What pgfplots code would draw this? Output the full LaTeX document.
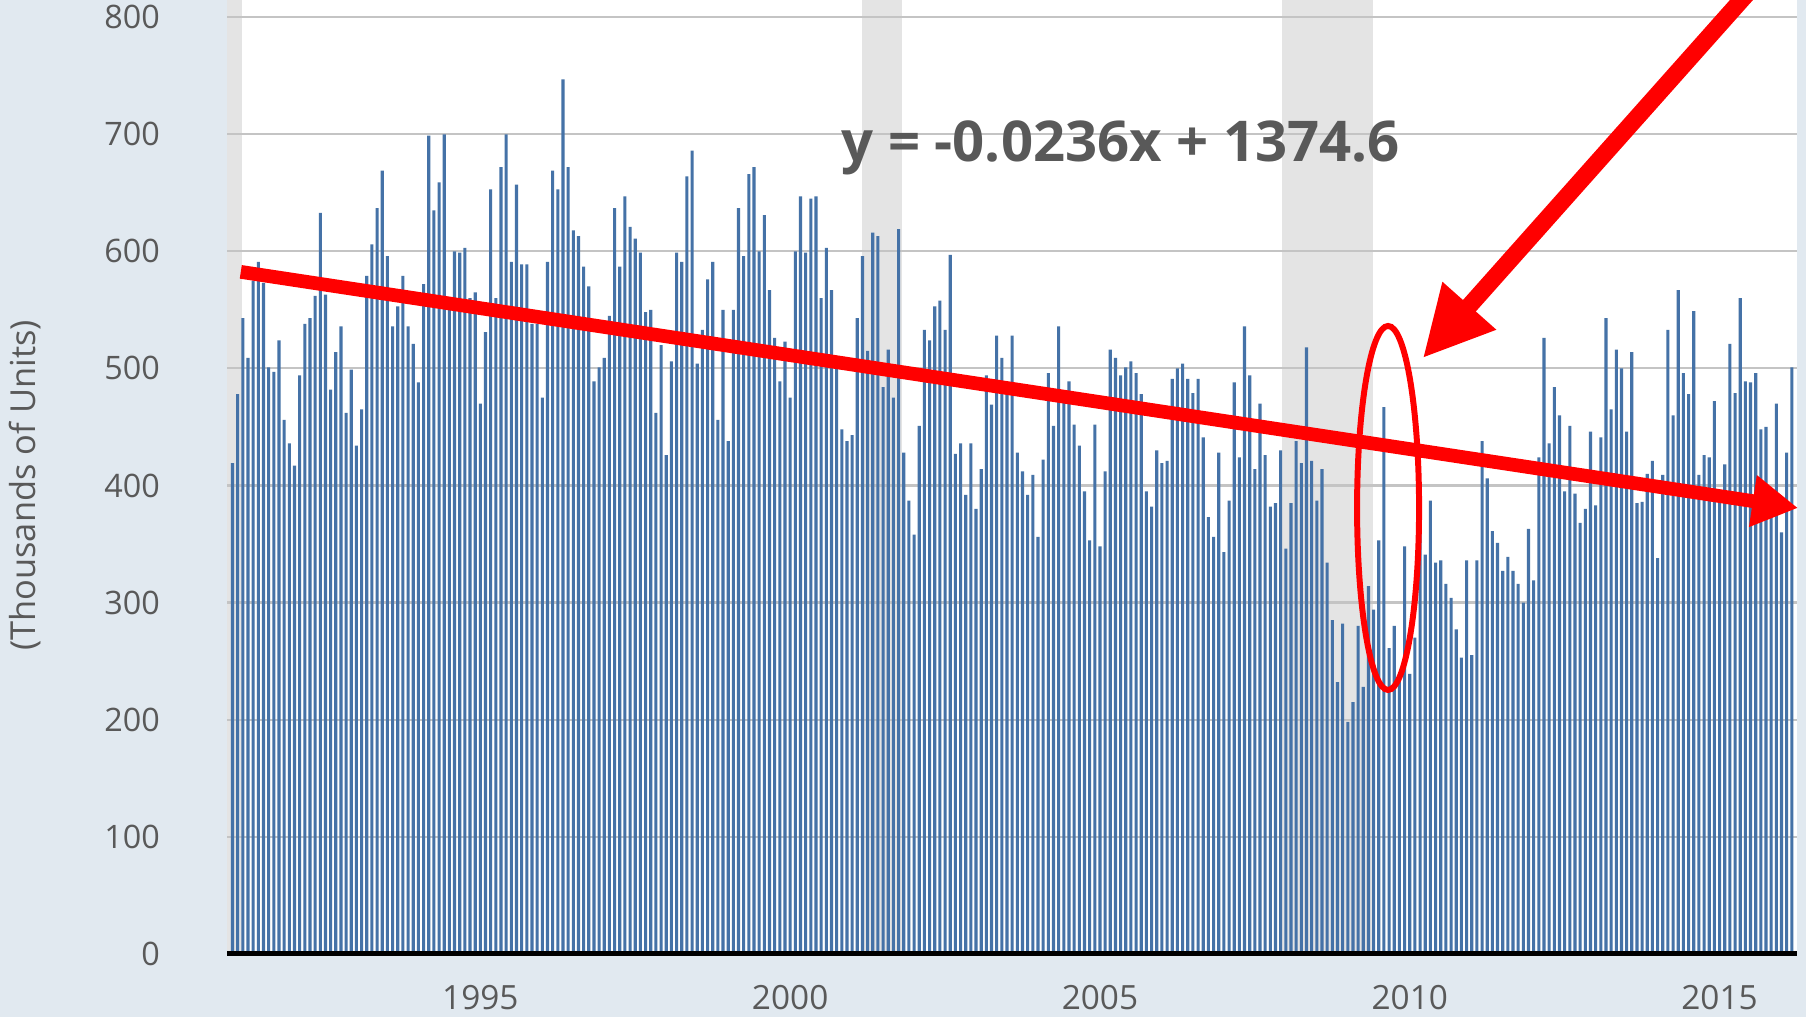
\documentclass[border=0pt]{standalone}
\usepackage{fontspec}
\setmainfont{Open Sans}
\usepackage{pgfplots}
\usepackage{pgfplotstable}
\pgfplotsset{compat=1.18}
\usetikzlibrary{arrows.meta}

\definecolor{bgblue}{HTML}{E1E9F0}
\definecolor{barblue}{HTML}{4572A7}
\definecolor{recgray}{HTML}{E4E4E4}
\definecolor{gridgray}{HTML}{C4C4C4}
\definecolor{ticgray}{HTML}{595959}
\definecolor{eqgray}{HTML}{595959}

% monthly values, Jan 1991 .. Mar 2016 (one row per year)
\pgfplotstableread[row sep=\\]{
v\\
419\\478\\543\\509\\575\\591\\573\\501\\497\\524\\456\\436\\
417\\494\\538\\543\\562\\633\\563\\482\\514\\536\\462\\499\\
434\\465\\579\\606\\637\\669\\596\\536\\553\\579\\536\\521\\
488\\572\\699\\635\\659\\700\\556\\600\\599\\603\\560\\565\\
470\\531\\653\\560\\672\\700\\591\\657\\589\\589\\538\\538\\
475\\591\\669\\653\\747\\672\\618\\613\\587\\570\\489\\501\\
509\\545\\637\\587\\647\\621\\611\\599\\548\\550\\462\\520\\
426\\506\\599\\591\\664\\686\\504\\533\\576\\591\\456\\550\\
438\\550\\637\\596\\666\\672\\600\\631\\567\\526\\489\\523\\
475\\600\\647\\599\\645\\647\\560\\603\\567\\504\\448\\438\\
443\\543\\596\\515\\616\\613\\484\\516\\475\\619\\428\\387\\
358\\451\\533\\524\\553\\558\\533\\597\\427\\436\\392\\436\\
380\\414\\494\\469\\528\\509\\478\\528\\428\\412\\392\\409\\
356\\422\\496\\451\\536\\472\\489\\452\\434\\395\\353\\452\\
348\\412\\516\\509\\494\\501\\506\\496\\478\\395\\382\\430\\
419\\421\\491\\500\\504\\491\\479\\491\\441\\373\\356\\428\\
343\\387\\488\\424\\536\\494\\414\\470\\426\\382\\385\\430\\
346\\385\\438\\419\\518\\421\\387\\414\\334\\285\\232\\282\\
198\\215\\280\\228\\314\\294\\353\\467\\261\\280\\233\\348\\
239\\270\\373\\341\\387\\334\\336\\316\\304\\277\\253\\336\\
255\\336\\438\\406\\361\\351\\327\\339\\327\\316\\300\\363\\
319\\424\\526\\436\\484\\460\\395\\451\\393\\368\\380\\446\\
383\\441\\543\\465\\516\\500\\446\\514\\385\\386\\410\\421\\
338\\409\\533\\460\\567\\496\\478\\549\\409\\426\\424\\472\\
390\\418\\521\\479\\560\\489\\488\\496\\448\\450\\395\\470\\
360\\428\\501\\
}\units

\begin{document}
\begin{tikzpicture}
\begin{axis}[
  set layers,
  at={(0,0)}, anchor=south west,
  scale only axis,
  width=15.70cm, height=9.364cm,
  xmin=-1.07, xmax=303,
  ymin=0, ymax=800,
  clip=false,
  axis line style={draw=none},
  tick style={draw=none},
  ytick={0,100,...,800},
  xtick={48,108,168,228,288},
  xticklabels={1995,2000,2005,2010,2015},
  ymajorgrids,
  grid style={gridgray, line width=0.6pt},
  /pgf/number format/assume math mode=true,
  tick label style={font=\fontsize{9.2}{11}\selectfont, text=ticgray},
  yticklabel style={xshift=-15.6pt},
  xticklabel style={yshift=-5.6pt, font=\fontsize{9.5}{11}\selectfont},
  every axis y label/.style={at={(axis description cs:-0.1285,0.5)}, rotate=90, anchor=center,
    font=\fontsize{9.8}{12}\selectfont, text=ticgray},
  ylabel={(Thousands of Units)},
]
\begin{pgfonlayer}{axis background}
% page background, plot area and recession shading
\fill[bgblue] ([xshift=-2.27cm,yshift=-0.633cm]rel axis cs:0,0) rectangle ([xshift=0.09cm,yshift=0.173cm]rel axis cs:1,1);
\fill[white] (rel axis cs:0,0) rectangle ([yshift=0.173cm]rel axis cs:1,1);
\fill[recgray] (axis cs:-1.07,0) rectangle (axis cs:1.9,815);
\fill[recgray] (axis cs:122,0) rectangle (axis cs:129.6,815);
\fill[recgray] (axis cs:203.2,0) rectangle (axis cs:220.9,815);
\end{pgfonlayer}

\addplot[ybar, bar width=0.6, fill=barblue, draw=none] table[x expr=\coordindex, y=v] {\units};

\draw[black, line width=1.3pt] (axis cs:-1.07,0) -- (axis cs:303,0);

% annotations
\draw[red, line width=3.9pt, -{Triangle[length=13pt,width=14pt]}]
  (axis cs:1.6,582.5) -- (axis cs:303.2,380.8);
\draw[red, line width=4.9pt, -{Triangle[length=20pt,width=19pt]}]
  (axis cs:296.3,834.9) -- (axis cs:230.5,508.7);
\draw[red, line width=1.7pt] (axis cs:223.8,380.8) ellipse [x radius=0.31cm, y radius=1.82cm];
\node[anchor=base, text=eqgray, font=\fontsize{16}{19}\selectfont\bfseries]
  at (axis cs:172,677) {y = -0.0236x + 1374.6};
\end{axis}

\pgfresetboundingbox
\useasboundingbox (-2.27,-0.633) rectangle (15.79,9.537);
\end{tikzpicture}
\end{document}
